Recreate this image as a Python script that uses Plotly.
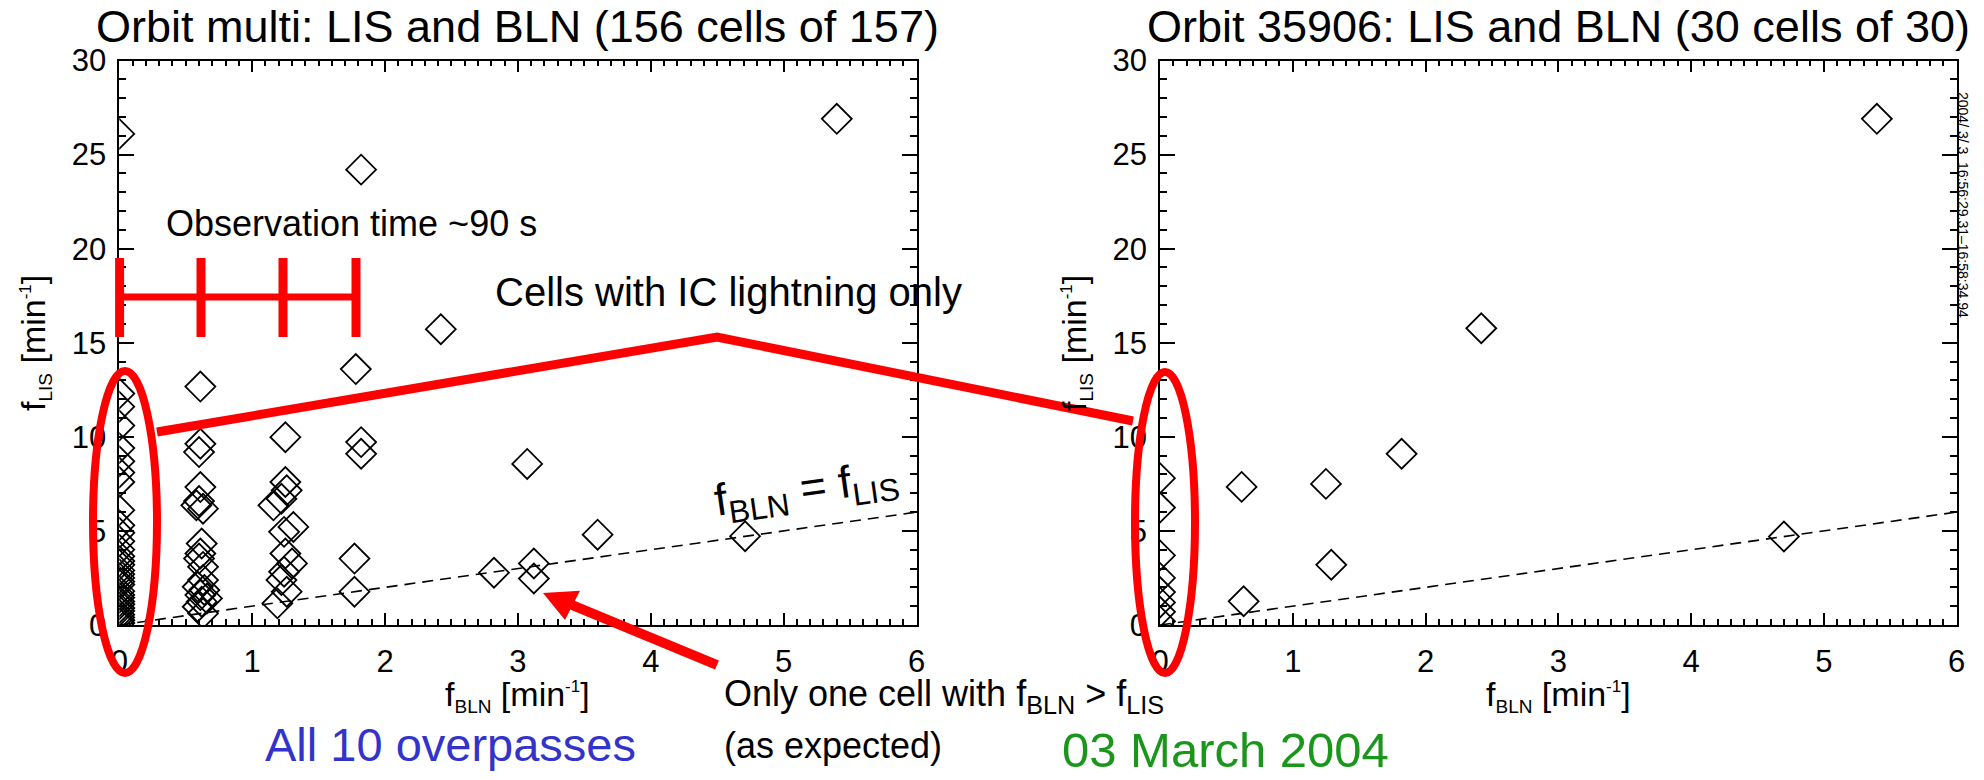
import plotly.graph_objects as go

W, H = 1984, 780

# ---------------- data ----------------
# Left panel: all 10 overpasses (f_BLN, f_LIS)
multi_bln = [0]*32 + [
    0.61, 0.61, 0.60, 0.61, 0.60, 0.58, 0.63, 0.62, 0.61, 0.60, 0.63, 0.63, 0.59, 0.64, 0.61, 0.66, 0.62, 0.59, 0.63,
    1.25, 1.25, 1.26, 1.16, 1.22, 1.31, 1.24, 1.25, 1.30, 1.24, 1.22, 1.26, 1.19,
    1.82, 1.82, 1.77, 1.77, 1.78, 1.82,
    2.42, 3.07, 2.82, 3.12, 3.12, 3.60, 4.71, 5.40]
multi_lis = [26.1, 12.3, 11.6, 10.6, 9.4, 8.7, 8.1, 7.6, 6.1, 5.3, 4.9, 4.45, 4.0, 3.65, 3.4, 3.2,
             2.9, 2.7, 2.5, 2.3, 2.15, 1.8, 1.6, 1.45, 1.25, 1.1, 0.9, 0.75, 0.55, 0.4, 0.25, 0.1] + [
    12.67, 9.63, 9.19, 7.33, 6.59, 6.36, 6.18, 4.33, 3.80, 3.53, 3.09, 2.39, 2.03, 1.86, 1.59, 1.41, 1.24, 0.97, 0.62,
    9.98, 7.60, 7.16, 6.36, 6.71, 5.21, 4.95, 3.80, 3.27, 2.83, 2.39, 1.77, 1.15,
    9.72, 9.10, 3.53, 1.77, 13.6, 24.2,
    15.72, 8.56, 2.78, 3.27, 2.47, 4.80, 4.72, 26.9]

# Right panel: orbit 35906
orbit_bln = [0, 0, 0, 0, 0, 0, 0, 0, 0.615, 0.63, 1.25, 1.29, 1.82, 2.42, 4.70, 5.40]
orbit_lis = [7.8, 6.24, 3.7, 2.5, 1.75, 1.2, 0.7, 0.2, 7.34, 1.26, 7.5, 3.2, 9.1, 15.77, 4.70, 26.9]

one_to_one = [0, 6]
x_ticks = [0, 1, 2, 3, 4, 5, 6]
y_ticks = [0, 5, 10, 15, 20, 25, 30]

titles = ["Orbit multi: LIS and BLN (156 cells of 157)",
          "Orbit 35906: LIS and BLN (30 cells of 30)"]

FONT = "Liberation Sans, Arial, Helvetica, sans-serif"

def P(px, py):
    return px / W, 1 - py / H

# plot area pixel boxes
L_X0, L_X1 = 119.3, 916.5
R_X0, R_X1 = 1160.0, 1956.5
Y_TOP, Y_BOT = 60.5, 625.0

fig = go.Figure()

marker = dict(symbol="diamond-open", size=23, color="black", line=dict(width=1.8, color="black"))

fig.add_trace(go.Scatter(x=multi_bln, y=multi_lis, mode="markers", marker=marker,
                         xaxis="x", yaxis="y", showlegend=False))
fig.add_trace(go.Scatter(x=one_to_one, y=one_to_one, mode="lines",
                         line=dict(color="black", width=1.6, dash="11px,7px"),
                         xaxis="x", yaxis="y", showlegend=False))
fig.add_trace(go.Scatter(x=orbit_bln, y=orbit_lis, mode="markers", marker=marker,
                         xaxis="x2", yaxis="y2", showlegend=False))
fig.add_trace(go.Scatter(x=one_to_one, y=one_to_one, mode="lines",
                         line=dict(color="black", width=1.6, dash="11px,7px"),
                         xaxis="x2", yaxis="y2", showlegend=False))

def xaxis_cfg(x0, x1):
    return dict(domain=[x0 / W, x1 / W], range=[0, 6], tickvals=x_ticks,
                ticktext=[str(v) for v in x_ticks],
                ticks="inside", ticklen=12, tickwidth=1.5, tickcolor="black",
                minor=dict(dtick=0.1, ticks="inside", ticklen=6, tickwidth=1.5, tickcolor="black"),
                showline=True, linecolor="black", linewidth=1.5, mirror="ticks",
                showgrid=False, zeroline=False, automargin=False,
                tickfont=dict(family=FONT, size=31, color="black"), ticklabelstandoff=8)

def yaxis_cfg():
    return dict(domain=[1 - Y_BOT / H, 1 - Y_TOP / H], range=[0, 30], tickvals=y_ticks,
                ticktext=[str(v) for v in y_ticks],
                ticks="inside", ticklen=15, tickwidth=1.5, tickcolor="black",
                minor=dict(dtick=1, ticks="inside", ticklen=7, tickwidth=1.5, tickcolor="black"),
                showline=True, linecolor="black", linewidth=1.5, mirror="ticks",
                showgrid=False, zeroline=False, automargin=False,
                tickfont=dict(family=FONT, size=31, color="black"), ticklabelstandoff=5)

fig.update_layout(
    width=W, height=H, margin=dict(l=0, r=0, t=0, b=0),
    paper_bgcolor="white", plot_bgcolor="white",
    font=dict(family=FONT, color="black"),
    xaxis=dict(**xaxis_cfg(L_X0, L_X1), anchor="y"),
    yaxis=dict(**yaxis_cfg(), anchor="x"),
    xaxis2=dict(**xaxis_cfg(R_X0, R_X1), anchor="y2"),
    yaxis2=dict(**yaxis_cfg(), anchor="x2"),
)

RED = "#FF0000"
shapes = []
def line_px(x0, y0, x1, y1, w):
    a, b = P(x0, y0); c, d = P(x1, y1)
    shapes.append(dict(type="line", xref="paper", yref="paper", x0=a, y0=b, x1=c, y1=d,
                       line=dict(color=RED, width=w)))

def path_px(pts, w=0, fill=None, close=False):
    s = "M " + " L ".join(f"{P(x, y)[0]:.6f},{P(x, y)[1]:.6f}" for x, y in pts)
    if close:
        s += " Z"
    d = dict(type="path", xref="paper", yref="paper", path=s,
             line=dict(color=RED, width=w))
    if fill:
        d["fillcolor"] = fill
    shapes.append(d)

def ellipse_px(x0, y0, x1, y1, w):
    a, b = P(x0, y1); c, d = P(x1, y0)
    shapes.append(dict(type="circle", xref="paper", yref="paper", x0=a, y0=b, x1=c, y1=d,
                       line=dict(color=RED, width=w)))

# observation time bar
line_px(119.6, 297, 356, 297, 7)
for xb in [119.6, 201, 283, 356]:
    line_px(xb, 258, xb, 337, 9)
# ellipses
ellipse_px(93, 371, 157, 673, 8)
ellipse_px(1135, 372, 1195, 673, 8)
# connector polyline
path_px([(157, 432), (717, 337), (1133, 421)], w=9)
# arrow
line_px(717, 665, 572, 605, 10)
path_px([(543, 593), (580, 590.7), (565, 620)], w=0, fill=RED, close=True)

fig.update_layout(shapes=shapes)

ann = []
def text(px, py, s, size, color="black", xanchor="center", yanchor="middle", angle=0):
    a, b = P(px, py)
    ann.append(dict(x=a, y=b, xref="paper", yref="paper", text=s, showarrow=False,
                    xanchor=xanchor, yanchor=yanchor, textangle=angle,
                    font=dict(family=FONT, size=size, color=color)))

text((L_X0 + L_X1) / 2, 27, titles[0], 45)
text((R_X0 + R_X1) / 2, 27, titles[1], 45)
text(351, 224, "Observation time ~90 s", 36)
text(728, 292, "Cells with IC lightning only", 40)
text(806, 490, "f<sub>BLN</sub> = f<sub>LIS</sub>", 45, angle=-8)
text(722, 696, "Only one cell with f<sub>BLN</sub> &gt; f<sub>LIS</sub>", 36, xanchor="left")
text(722, 745, "(as expected)", 36, xanchor="left")
text(450, 744, "All 10 overpasses", 47, color="#3333CC")
text(1225, 750, "03 March 2004", 49, color="#1A961A")
text(1963, 205, "2004/ 3/ 3  16:56:29.31\u201316:58:34.94", 14, angle=90)

axis_x_title = "f<sub><span style='font-size:19px'>BLN</span></sub> [min<sup><span style='font-size:17px'>-1</span></sup>]"
axis_y_title = "f<sub><span style='font-size:19px'>LIS</span></sub> [min<sup><span style='font-size:17px'>-1</span></sup>]"
text((L_X0 + L_X1) / 2, 696, axis_x_title, 34)
text((R_X0 + R_X1) / 2, 696, axis_x_title, 34)
text(35, 343, axis_y_title, 34, angle=-90)
text(R_X0 - 84, 343, axis_y_title, 34, angle=-90)

fig.update_layout(annotations=ann)

fig.write_html("out.html")
